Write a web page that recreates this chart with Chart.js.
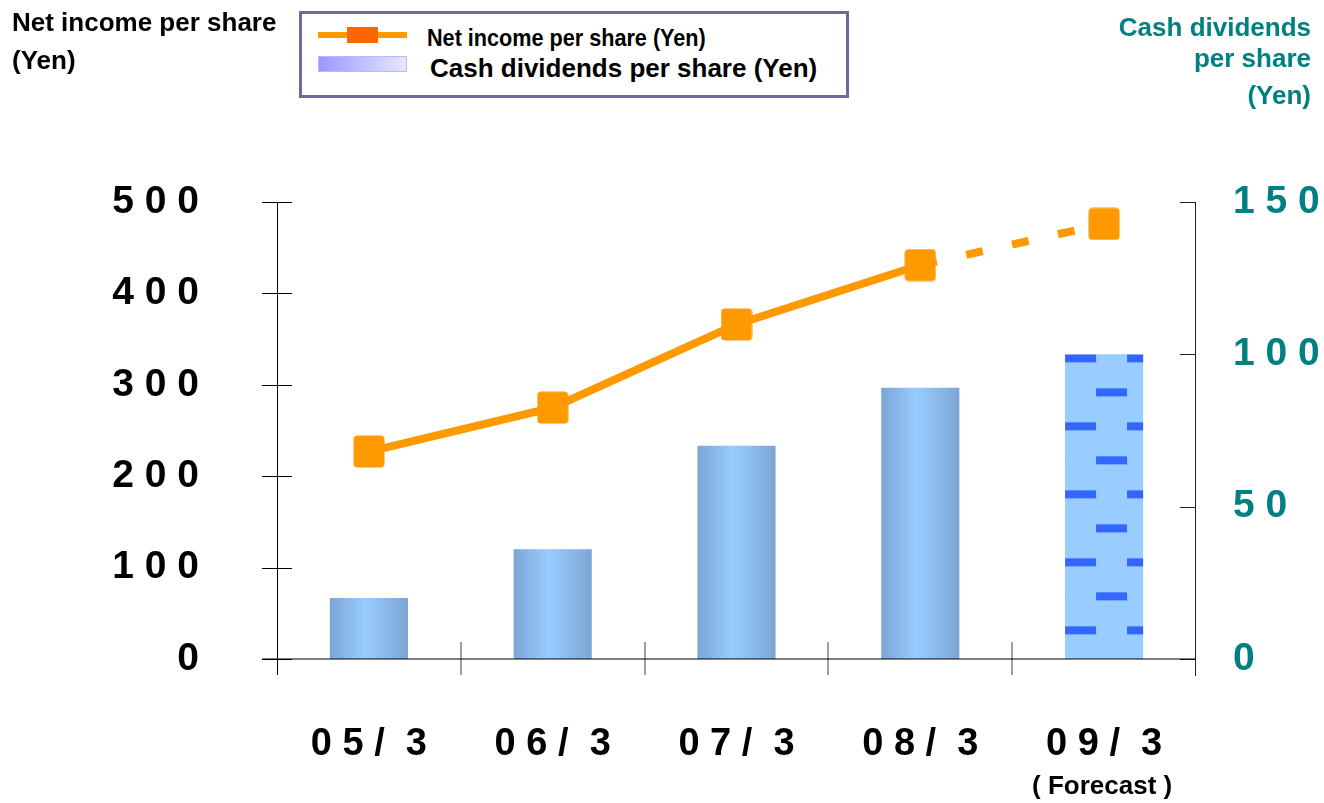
<!DOCTYPE html>
<html>
<head>
<meta charset="utf-8">
<script src="https://cdn.jsdelivr.net/npm/chart.js@4.4.0/dist/chart.umd.min.js"></script>
<style>
  html, body { margin: 0; padding: 0; background: #fff; }
  #wrap { position: relative; width: 1324px; height: 803px; font-family: 'Liberation Sans', Arial, sans-serif; font-weight: bold; }
  #box { position: absolute; left: 0; top: 0; width: 1324px; height: 803px; }
  .t { position: absolute; white-space: nowrap; line-height: 1; }
  .teal { color: #008080; text-align: right; right: 13px; font-size: 26px; }
  #legend { position: absolute; left: 299px; top: 11px; width: 550px; height: 87px; box-sizing: border-box; border: 3px solid #6b6b9b; background: #fff; }
</style>
</head>
<body>
<div id="wrap">
  <div id="box"><canvas id="chart"></canvas></div>

  <!-- axis titles -->
  <div class="t" style="left:12px; top:9px; font-size:26px;">Net income per share</div>
  <div class="t" style="left:12px; top:47px; font-size:26px;">(Yen)</div>
  <div class="t teal" style="top:14px;">Cash dividends</div>
  <div class="t teal" style="top:45px;">per share</div>
  <div class="t teal" style="top:82px;">(Yen)</div>

  <!-- legend -->
  <div id="legend"></div>
  <div style="position:absolute; left:318px; top:32px; width:89px; height:6px; background:#ff9900;"></div>
  <div style="position:absolute; left:347px; top:27px; width:31px; height:16px; background:#ff6600;"></div>
  <div style="position:absolute; left:318px; top:56px; width:89px; height:16px; box-sizing:border-box; border:1px solid #b8b8ff; background:linear-gradient(to right, #9999ff, #e6e6ff);"></div>
  <div class="t" style="left:427px; top:27px; font-size:23px; transform:scaleX(0.94); transform-origin:left center;">Net income per share (Yen)</div>
  <div class="t" style="left:430px; top:55px; font-size:26px;">Cash dividends per share (Yen)</div>
</div>

<script>
// data
const categories = ['0 5 /  3', '0 6 /  3', '0 7 /  3', '0 8 /  3', '0 9 /  3'];
const netIncome = [227, 275, 366, 431, 476];   // left axis, Yen
const dividends = [20, 36, 70, 89, 100];       // right axis, Yen
const forecastIndex = 4;
const forecastNote = '( Forecast )';
const leftMax = 500, leftStep = 100;
const rightMax = 150, rightStep = 50;

const FONT = "'Liberation Sans', Arial, sans-serif";
const barPct = 0.425;

// spaced digits like "5 0 0"
function spaced(v) { return String(v).split('').join(' '); }

// marker: orange square with slightly rounded corners
const marker = document.createElement('canvas');
marker.width = 32; marker.height = 33;
(function () {
  const m = marker.getContext('2d');
  m.fillStyle = '#ff9900';
  m.beginPath();
  m.roundRect(0.5, 0.5, 31, 32, 4);
  m.fill();
})();

let gradCache = [];
let forecastPattern = null;

const fillPlugin = {
  id: 'fills',
  afterLayout(chart) {
    const x = chart.scales.x, y1 = chart.scales.y1, c = chart.ctx;
    const w = (x.getPixelForValue(1) - x.getPixelForValue(0)) * barPct;
    gradCache = categories.map((_, i) => {
      const cx = x.getPixelForValue(i);
      const g = c.createLinearGradient(cx - w / 2, 0, cx + w / 2, 0);
      g.addColorStop(0, '#7ba6d4');
      g.addColorStop(0.45, '#99ccff');
      g.addColorStop(1, '#7ba6d4');
      return g;
    });
    // brick of dashes on the forecast bar
    const tile = document.createElement('canvas');
    tile.width = 62; tile.height = 68;
    const tc = tile.getContext('2d');
    tc.fillStyle = '#99ccff';
    tc.fillRect(0, 0, 62, 68);
    tc.fillStyle = '#3366ff';
    tc.fillRect(0, 0, 31, 8);
    tc.fillRect(31, 34, 31, 8);
    const p = c.createPattern(tile, 'repeat');
    const left = x.getPixelForValue(forecastIndex) - w / 2;
    const top = y1.getPixelForValue(dividends[forecastIndex]);
    p.setTransform(new DOMMatrix().translate(left, top));
    forecastPattern = p;
  }
};

const axesPlugin = {
  id: 'axes',
  afterDatasetsDraw(chart) {
    const { ctx, chartArea: a, scales } = chart;
    const x = scales.x, y = scales.y, y1 = scales.y1;
    const line = (x0, y0, x1, y1_) => { ctx.beginPath(); ctx.moveTo(x0, y0); ctx.lineTo(x1, y1_); ctx.stroke(); };
    ctx.save();
    // left axis
    ctx.strokeStyle = '#000';
    ctx.lineWidth = 1;
    line(a.left + 0.5, a.top, a.left + 0.5, a.bottom + 16);
    y.ticks.forEach(t => {
      const py = Math.round(y.getPixelForValue(t.value)) + 0.5;
      line(a.left - 15, py, a.left + 15, py);
    });
    // right axis
    ctx.strokeStyle = '#222';
    line(a.right - 0.5, a.top, a.right - 0.5, a.bottom + 17);
    y1.ticks.forEach(t => {
      const py = Math.round(y1.getPixelForValue(t.value)) + 0.5;
      line(a.right - 16, py, a.right, py);
    });
    // x axis, drawn over the bars
    ctx.strokeStyle = 'rgba(0,0,0,0.5)';
    ctx.lineWidth = 2;
    line(a.left - 15, a.bottom, a.right, a.bottom);
    ctx.lineWidth = 1.5;
    for (let i = 1; i < categories.length; i++) {
      const px = Math.round((x.getPixelForValue(i - 1) + x.getPixelForValue(i)) / 2);
      line(px, a.bottom - 17, px, a.bottom + 16);
    }
    // forecast note under last label
    ctx.fillStyle = '#000';
    ctx.font = 'bold 26px ' + FONT;
    ctx.textAlign = 'center';
    ctx.textBaseline = 'middle';
    ctx.fillText(forecastNote, x.getPixelForValue(forecastIndex) - 2, a.bottom + 128);
    ctx.restore();
  }
};

new Chart(document.getElementById('chart'), {
  type: 'bar',
  data: {
    labels: categories,
    datasets: [
      {
        type: 'line',
        label: 'Net income per share (Yen)',
        data: netIncome,
        yAxisID: 'y',
        borderColor: '#ff9900',
        backgroundColor: '#ff9900',
        borderWidth: 8,
        pointStyle: marker,
        pointRadius: 16,
        tension: 0,
        segment: {
          borderDash: c => c.p1DataIndex === forecastIndex ? [17, 30] : undefined
        },
        order: 0
      },
      {
        label: 'Cash dividends per share (Yen)',
        data: dividends,
        yAxisID: 'y1',
        backgroundColor: c => c.dataIndex === forecastIndex ? (forecastPattern || '#99ccff') : (gradCache[c.dataIndex] || '#99ccff'),
        borderWidth: 0,
        barPercentage: barPct,
        categoryPercentage: 1,
        order: 1
      }
    ]
  },
  options: {
    responsive: true,
    maintainAspectRatio: false,
    animation: false,
    layout: { padding: { top: 202, left: 0, right: 0, bottom: 0 } },
    plugins: { legend: { display: false }, tooltip: { enabled: false } },
    scales: {
      x: {
        offset: true,
        grid: { display: false, drawTicks: false },
        border: { display: false },
        ticks: { color: '#000', font: { family: FONT, size: 38, weight: 'bold' }, padding: 63, maxRotation: 0, autoSkip: false },
        afterFit(s) { s.height = 144; }
      },
      y: {
        position: 'left',
        min: 0, max: leftMax,
        grid: { display: false, drawTicks: false },
        border: { display: false },
        ticks: { stepSize: leftStep, color: '#000', font: { family: FONT, size: 39, weight: 'bold' }, padding: 78, callback: v => spaced(v) },
        afterFit(s) { s.width = 277; }
      },
      y1: {
        position: 'right',
        min: 0, max: rightMax,
        grid: { display: false, drawTicks: false },
        border: { display: false },
        ticks: { stepSize: rightStep, color: '#008080', font: { family: FONT, size: 39, weight: 'bold' }, padding: 37, callback: v => spaced(v) },
        afterFit(s) { s.width = 128; }
      }
    }
  },
  plugins: [fillPlugin, axesPlugin]
});
</script>
</body>
</html>
